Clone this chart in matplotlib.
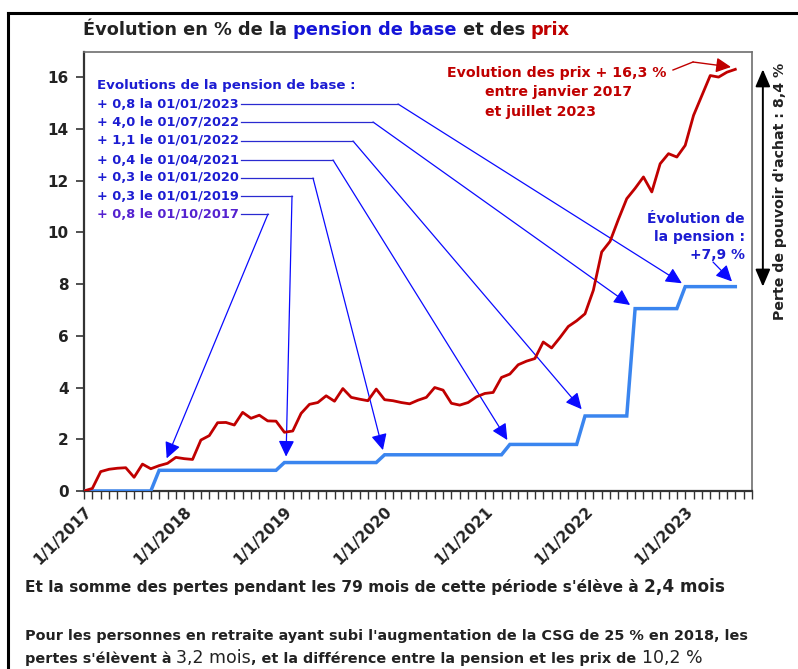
import numpy as np
import matplotlib
matplotlib.use("Agg")
import matplotlib.pyplot as plt
from matplotlib.lines import Line2D

W, H = 798, 669

# --- données ---
# indice mensuel 0 = janvier 2017 ... 78 = juillet 2023
prix = [0.0, 0.1, 0.75, 0.84, 0.88, 0.9, 0.53, 1.04, 0.86, 0.98, 1.07, 1.3,
        1.25, 1.22, 1.97, 2.14, 2.64, 2.65, 2.55, 3.04, 2.81, 2.93, 2.71, 2.7,
        2.27, 2.32, 3.0, 3.35, 3.42, 3.68, 3.47, 3.96, 3.62, 3.55, 3.49, 3.94,
        3.53, 3.49, 3.42, 3.37, 3.51, 3.62, 4.0, 3.9, 3.39, 3.32, 3.42, 3.64,
        3.77, 3.81, 4.39, 4.52, 4.88, 5.02, 5.12, 5.76, 5.53, 5.93, 6.36, 6.58,
        6.85, 7.76, 9.24, 9.65, 10.5, 11.3, 11.7, 12.14, 11.56, 12.65, 13.04, 12.91,
        13.36, 14.52, 15.29, 16.06, 16.0, 16.19, 16.3]

# niveaux de la pension (cumul en %) et mois où chaque niveau commence
pension_niveaux = [0.0, 0.8, 1.1, 1.4, 1.8, 2.9, 7.05, 7.9]
pension_debut = [0, 9, 24, 36, 51, 60, 66, 72]

annees = ["1/1/2017", "1/1/2018", "1/1/2019", "1/1/2020",
          "1/1/2021", "1/1/2022", "1/1/2023"]
y_ticks = [0, 2, 4, 6, 8, 10, 12, 14, 16]

revalorisations = ["+ 0,8 la 01/01/2023", "+ 4,0 le 01/07/2022",
                   "+ 1,1 le 01/01/2022", "+ 0,4 le 01/04/2021",
                   "+ 0,3 le 01/01/2020", "+ 0,3 le 01/01/2019",
                   "+ 0,8 le 01/10/2017"]

n = len(prix)
mois = np.arange(n)
durees = np.diff(pension_debut + [n])
pension = np.repeat(pension_niveaux, durees)

ROUGE = "#c00000"
BLEU_TXT = "#1c1cd2"
BLEU_FLECHE = "#0a0aff"
BLEU_LIGNE = "#3a85ef"
NOIR = "#222222"

plt.rcParams["font.family"] = ["DejaVu Sans"]
plt.rcParams["font.weight"] = "bold"


def fx(x):
    return x / W


def fy(y):
    return 1 - y / H


fig = plt.figure(figsize=(W / 100, H / 100), dpi=100)
fig.patch.set_facecolor("white")
ax = fig.add_axes([fx(84), fy(491), fx(752) - fx(84), fy(52) - fy(491)])

ax.plot(mois, pension, color=BLEU_LIGNE, lw=2.5, solid_joinstyle="miter", zorder=3)
ax.plot(mois, prix, color=ROUGE, lw=2.0, zorder=4)

ax.set_xlim(0, 80)
ax.set_ylim(0, 16.97)
ax.set_xticks(np.arange(0, 81))
ax.set_xticklabels([annees[i // 12] if i % 12 == 0 and i // 12 < len(annees) else ""
                    for i in range(81)])
for lab in ax.get_xticklabels():
    lab.set_rotation(45)
    lab.set_ha("right")
    lab.set_va("top")
    lab.set_rotation_mode("anchor")
    lab.set_fontsize(11)
    lab.set_fontweight("bold")
    lab.set_color(NOIR)
ax.tick_params(axis="x", length=6, width=1.0, color="#333333", pad=3)
ax.set_yticks(y_ticks)
ax.set_yticklabels([str(v) for v in y_ticks], fontsize=11, fontweight="bold", color=NOIR)
ax.tick_params(axis="y", length=6, width=1.2, color="#333333", pad=5)

for s in ["left", "bottom"]:
    ax.spines[s].set_color("#333333")
    ax.spines[s].set_linewidth(1.6)
for s in ["top", "right"]:
    ax.spines[s].set_color("#6e6e6e")
    ax.spines[s].set_linewidth(1.2)

renderer = fig.canvas.get_renderer()


def rangee(x, y, morceaux, **common):
    # place plusieurs bouts de texte à la suite sur une même ligne
    for s, kw in morceaux:
        t = fig.text(x, y, s, **common, **kw)
        bb = t.get_window_extent(renderer=renderer)
        x += bb.width / W
    return x


# titre
rangee(fx(83), fy(30), [("Évolution en % de la ", dict(color=NOIR)),
                        ("pension de base", dict(color="#1414d8")),
                        (" et des ", dict(color=NOIR)),
                        ("prix", dict(color=ROUGE))],
       fontsize=12.8, fontweight="bold", va="center", ha="left")

# bloc des revalorisations
fig.text(fx(97), fy(86), "Evolutions de la pension de base :", color=BLEU_TXT,
         fontsize=9.6, fontweight="bold", va="center")
lignes_y = [104, 122, 141, 160, 178, 196, 214]
coudes_x = [398, 373, 353, 333, 313, 292, 268]
# pointe des flèches : mois de la hausse et petit décalage au-dessus de la courbe
decal = [(-0.4, 0.13), (-0.6, 0.14), (-0.4, 0.26), (-0.3, 0.17),
         (-0.2, 0.18), (0.2, 0.23), (0.9, 0.46)]
debuts = pension_debut[::-1][:7]
for k, txt in enumerate(revalorisations):
    coul = "#5522d0" if k == 6 else BLEU_TXT
    fig.text(fx(97), fy(lignes_y[k]), txt, color=coul, fontsize=9.3,
             fontweight="bold", va="center")
    fig.add_artist(Line2D([fx(241), fx(coudes_x[k])], [fy(lignes_y[k]), fy(lignes_y[k])],
                          color="#2a2ad0", lw=0.9))
    m = debuts[k]
    ax.annotate("", xy=(m + decal[k][0], pension[m] + decal[k][1]), xycoords="data",
                xytext=(fx(coudes_x[k]), fy(lignes_y[k])), textcoords="figure fraction",
                arrowprops=dict(arrowstyle="-|>,head_length=0.65,head_width=0.32",
                                color="#2a2ad0", fc=BLEU_FLECHE, ec=BLEU_FLECHE,
                                lw=0.9, shrinkA=0, shrinkB=0, mutation_scale=15),
                annotation_clip=False)

# annotation des prix
fig.text(fx(447), fy(73), "Evolution des prix + 16,3 %", color=ROUGE, fontsize=10.2,
         fontweight="bold", va="center")
fig.text(fx(485), fy(92), "entre janvier 2017", color=ROUGE, fontsize=10.2,
         fontweight="bold", va="center")
fig.text(fx(485), fy(112), "et juillet 2023", color=ROUGE, fontsize=10.2,
         fontweight="bold", va="center")
fig.add_artist(Line2D([fx(673), fx(693)], [fy(70), fy(62)], color=ROUGE, lw=1.0))
ax.annotate("", xy=(fx(731), fy(67)), xycoords="figure fraction",
            xytext=(fx(693), fy(62)), textcoords="figure fraction",
            arrowprops=dict(arrowstyle="-|>,head_length=0.6,head_width=0.3",
                            color=ROUGE, lw=1.0, shrinkA=0, shrinkB=0, mutation_scale=15))

# annotation de la pension
for yy, s in zip([219, 237, 255], ["Évolution de", "la pension :", "+7,9 %"]):
    fig.text(fx(745), fy(yy), s, color=BLEU_TXT, fontsize=10, fontweight="bold",
             ha="right", va="center")
ax.annotate("", xy=(n - 1.4, pension[-1] + 0.2), xycoords="data",
            xytext=(fx(713), fy(262)), textcoords="figure fraction",
            arrowprops=dict(arrowstyle="-|>,head_length=0.65,head_width=0.32",
                            color="#2a2ad0", fc=BLEU_FLECHE, ec=BLEU_FLECHE,
                            lw=0.9, shrinkA=0, shrinkB=0, mutation_scale=15),
            annotation_clip=False)

# perte de pouvoir d'achat : double flèche entre les deux courbes finales
ax.annotate("", xy=(81.3, pension[-1]), xytext=(81.3, prix[-1]),
            arrowprops=dict(arrowstyle="<|-|>,head_length=0.7,head_width=0.3",
                            color="black", lw=1.4, shrinkA=0, shrinkB=0, mutation_scale=15),
            annotation_clip=False)
fig.text(fx(780), fy(191), "Perte de pouvoir d'achat : 8,4 %", rotation=90,
         color=NOIR, fontsize=10.2, fontweight="bold", ha="center", va="center")

# textes du bas
rangee(fx(25), fy(592), [("Et la somme des pertes pendant les 79 mois de cette période s'élève à ",
                          dict(fontsize=11.1, fontweight="bold")),
                         ("2,4 mois", dict(fontsize=12.2, fontweight="bold"))],
       color=NOIR, va="baseline", ha="left")
fig.text(fx(25), fy(640), "Pour les personnes en retraite ayant subi l'augmentation de la CSG "
         "de 25 % en 2018, les", color=NOIR, fontsize=10.4, fontweight="bold",
         va="baseline", ha="left")
rangee(fx(25), fy(663), [("pertes s'élèvent à ", dict(fontsize=10.4, fontweight="bold")),
                         ("3,2 mois", dict(fontsize=12.5, fontweight="normal")),
                         (", et la différence entre la pension et les prix de ",
                          dict(fontsize=10.4, fontweight="bold")),
                         ("10,2 %", dict(fontsize=12.5, fontweight="normal"))],
       color=NOIR, va="baseline", ha="left")

# cadre noir (gauche et haut)
fig.add_artist(Line2D([fx(8), fx(8)], [fy(669), fy(13)], color="black", lw=2.2))
fig.add_artist(Line2D([fx(8), fx(798)], [fy(13), fy(13)], color="black", lw=2.2))

fig.savefig("out.png", dpi=100, facecolor="white")
